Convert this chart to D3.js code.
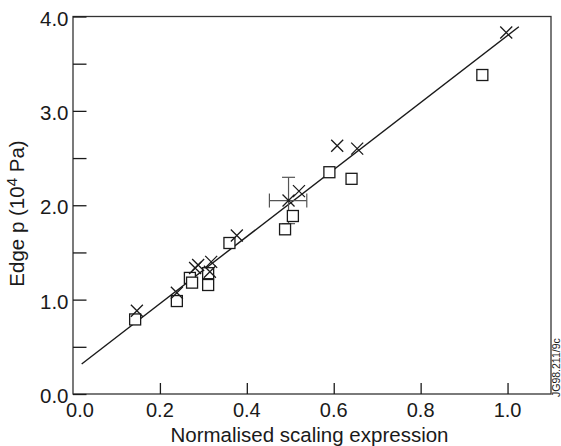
<!DOCTYPE html>
<html>
<head>
<meta charset="utf-8">
<script src="https://cdn.jsdelivr.net/npm/d3@7"></script>
<style>
  html, body { margin: 0; padding: 0; background: #fff; }
  svg { display: block; font-family: "Liberation Sans", Arial, Helvetica, sans-serif; }
</style>
</head>
<body>
<svg id="chart" width="561" height="446"></svg>
<script>
// ---- data ----
const crossX = [0.147, 0.239, 0.281, 0.288, 0.318, 0.315, 0.377, 0.496, 0.520, 0.608, 0.654, 0.997];
const crossY = [0.883, 1.073, 1.335, 1.367, 1.400, 1.296, 1.680, 2.050, 2.150, 2.630, 2.600, 3.830];
const squareX = [0.143, 0.239, 0.269, 0.274, 0.311, 0.311, 0.360, 0.506, 0.488, 0.590, 0.641, 0.942];
const squareY = [0.790, 0.985, 1.230, 1.180, 1.280, 1.155, 1.600, 1.886, 1.745, 2.350, 2.280, 3.380];
// error bar on one cross point: [x, y, xLow, xHigh, yLow, yHigh]
const errorBar = [0.496, 2.050, 0.452, 0.538, 1.805, 2.296];
// fitted straight line endpoints
const fitX = [0.020, 1.026];
const fitY = [0.318, 3.892];
const xTicks = [0.2, 0.4, 0.6, 0.8, 1.0];
const xTickLabels = ["0.0", "0.2", "0.4", "0.6", "0.8", "1.0"];
const yTicksMajor = [0.0, 1.0, 2.0, 3.0, 4.0];
const yTicksMinor = [0.5, 1.5, 2.5, 3.5];
const xDomain = [0, 1.1];
const yDomain = [0, 4];
const xTitle = "Normalised scaling expression";
const sideLabel = "JG98.211/9c";

// ---- drawing ----
const svg = d3.select("#chart");
const L = 73, R = 551, T = 16.5, B = 394;
const x = d3.scaleLinear().domain(xDomain).range([L, R]);
const y = d3.scaleLinear().domain(yDomain).range([B, T]);
const ink = "#1a1a1a";

// frame
svg.append("rect").attr("x", L).attr("y", T).attr("width", R - L).attr("height", B - T)
  .attr("fill", "none").attr("stroke", "#333").attr("stroke-width", 1.3);

// x axis ticks (inward) and labels
const xAxis = d3.axisBottom(x).tickValues(xTicks).tickSizeInner(-11).tickSizeOuter(0).tickFormat("");
const gx = svg.append("g").attr("transform", `translate(0,${B})`).call(xAxis);
gx.select(".domain").remove();
gx.selectAll(".tick line").attr("stroke", ink).attr("stroke-width", 1.3);
svg.append("g").selectAll("text").data([0].concat(xTicks)).join("text")
  .attr("x", (d, i) => x(d) + (i === 0 ? 7 : 0))
  .attr("y", 417)
  .attr("text-anchor", "middle")
  .attr("font-size", 20)
  .attr("fill", ink)
  .text((d, i) => xTickLabels[i]);

// y axis ticks (inward) and labels
const yAxis = d3.axisLeft(y).tickValues(yTicksMajor.concat(yTicksMinor)).tickSizeInner(-13.5).tickSizeOuter(0).tickFormat("");
const gy = svg.append("g").attr("transform", `translate(${L},0)`).call(yAxis);
gy.select(".domain").remove();
gy.selectAll(".tick line").attr("stroke", ink).attr("stroke-width", 1.3);
svg.append("g").selectAll("text").data(yTicksMajor).join("text")
  .attr("x", 68.5)
  .attr("y", d => y(d) + 9)
  .attr("text-anchor", "end")
  .attr("font-size", 20.5)
  .attr("fill", ink)
  .text(d => d.toFixed(1));

// axis titles
svg.append("text").attr("x", (169 + 450) / 2).attr("y", 441.5)
  .attr("text-anchor", "middle").attr("font-size", 20.5).attr("fill", ink).text(xTitle);
const yt = svg.append("text")
  .attr("transform", `translate(24,213.5) rotate(-90)`)
  .attr("text-anchor", "middle").attr("font-size", 20.5).attr("fill", ink);
yt.append("tspan").text("Edge p (10");
yt.append("tspan").attr("font-size", 15).attr("dy", -7).text("4");
yt.append("tspan").attr("dy", 7).text(" Pa)");

// side label
svg.append("text").attr("transform", `translate(560,397) rotate(-90)`)
  .attr("text-anchor", "start").attr("font-size", 10.5).attr("fill", ink).text(sideLabel);

// fit line
const line = d3.line().x(d => x(d[0])).y(d => y(d[1]));
svg.append("path").datum(fitX.map((v, i) => [v, fitY[i]]))
  .attr("d", line).attr("fill", "none").attr("stroke", ink).attr("stroke-width", 1.4);

// error bar
const [ex, ey, exl, exh, eyl, eyh] = errorBar;
const eg = svg.append("g").attr("stroke", "#555").attr("stroke-width", 1.2).attr("fill", "none");
eg.append("line").attr("x1", x(exl)).attr("x2", x(exh)).attr("y1", y(ey)).attr("y2", y(ey));
eg.append("line").attr("x1", x(ex)).attr("x2", x(ex)).attr("y1", y(eyl)).attr("y2", y(eyh));
[exl, exh].forEach(v => eg.append("line").attr("x1", x(v)).attr("x2", x(v)).attr("y1", y(ey) - 7).attr("y2", y(ey) + 7));
[eyl, eyh].forEach(v => eg.append("line").attr("x1", x(ex) - 6.5).attr("x2", x(ex) + 6.5).attr("y1", y(v)).attr("y2", y(v)));

// squares
const s = 11;
svg.append("g").selectAll("rect").data(squareX.map((v, i) => [v, squareY[i]])).join("rect")
  .attr("x", d => x(d[0]) - s / 2).attr("y", d => y(d[1]) - s / 2)
  .attr("width", s).attr("height", s)
  .attr("fill", "#fff").attr("stroke", ink).attr("stroke-width", 1.3);

// crosses
const c = 6;
svg.append("g").selectAll("path").data(crossX.map((v, i) => [v, crossY[i]])).join("path")
  .attr("d", d => {
    const px = x(d[0]), py = y(d[1]);
    return `M${px - c},${py - c}L${px + c},${py + c}M${px - c},${py + c}L${px + c},${py - c}`;
  })
  .attr("fill", "none").attr("stroke", ink).attr("stroke-width", 1.3);
</script>
</body>
</html>
